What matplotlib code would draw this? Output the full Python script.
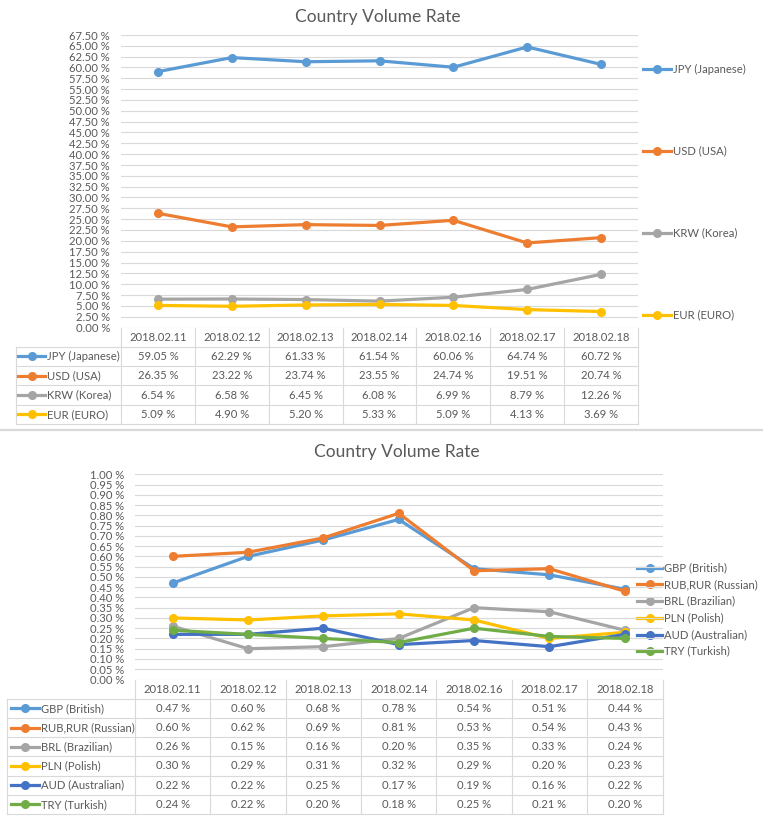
import numpy as np
import matplotlib.pyplot as plt
from matplotlib.lines import Line2D

plt.rcParams['font.family'] = ['Lato', 'DejaVu Sans']

dates = ["2018.02.11", "2018.02.12", "2018.02.13", "2018.02.14",
         "2018.02.16", "2018.02.17", "2018.02.18"]

# top chart (percent)
top_names = ["JPY (Japanese)", "USD (USA)", "KRW (Korea)", "EUR (EURO)"]
jpy = [59.05, 62.29, 61.33, 61.54, 60.06, 64.74, 60.72]
usd = [26.35, 23.22, 23.74, 23.55, 24.74, 19.51, 20.74]
krw = [6.54, 6.58, 6.45, 6.08, 6.99, 8.79, 12.26]
eur = [5.09, 4.90, 5.20, 5.33, 5.09, 4.13, 3.69]
top_series = [jpy, usd, krw, eur]
top_colors = ["#5B9BD5", "#ED7D31", "#A5A5A5", "#FFC000"]

# bottom chart (percent)
bot_names = ["GBP (British)", "RUB,RUR (Russian)", "BRL (Brazilian)",
             "PLN (Polish)", "AUD (Australian)", "TRY (Turkish)"]
gbp = [0.47, 0.60, 0.68, 0.78, 0.54, 0.51, 0.44]
rub = [0.60, 0.62, 0.69, 0.81, 0.53, 0.54, 0.43]
brl = [0.26, 0.15, 0.16, 0.20, 0.35, 0.33, 0.24]
pln = [0.30, 0.29, 0.31, 0.32, 0.29, 0.20, 0.23]
aud = [0.22, 0.22, 0.25, 0.17, 0.19, 0.16, 0.22]
tryk = [0.24, 0.22, 0.20, 0.18, 0.25, 0.21, 0.20]
bot_series = [gbp, rub, brl, pln, aud, tryk]
bot_colors = ["#5B9BD5", "#ED7D31", "#A5A5A5", "#FFC000", "#4472C4", "#70AD47"]

W, H = 763, 825
TXT = "#595959"
GRID = "#D9D9D9"
FS = 8.1

fig = plt.figure(figsize=(W / 100, H / 100), dpi=100)
ov = fig.add_axes([0, 0, 1, 1], zorder=0)
ov.set_xlim(0, W)
ov.set_ylim(H, 0)
ov.axis("off")


def px_axes(x0, y0, x1, y1):
    return fig.add_axes([x0 / W, 1 - y1 / H, (x1 - x0) / W, (y1 - y0) / H], zorder=2)


def draw_chart(x0, x1, ytop, ybot, ymax, ystep, series, names, colors,
               title_y, leg_left, key_x, leg_x, leg_y0, leg_dy, row_h):
    ax = px_axes(x0, ytop, x1, ybot)
    ax.set_facecolor("none")
    xs = np.arange(len(dates))
    for vals, col in zip(series, colors):
        ax.plot(xs, vals, color=col, lw=2.3, marker="o", ms=5.5, solid_capstyle="round")
    ax.set_xlim(-0.5, len(dates) - 0.5)
    ax.set_ylim(0, ymax)
    ticks = np.arange(0, ymax + ystep / 2, ystep)
    ax.set_yticks(ticks)
    ax.set_yticklabels([f"{t:.2f} %" for t in ticks], fontsize=FS, color=TXT)
    ax.set_xticks([])
    ax.tick_params(axis="y", length=0, pad=8)
    for t in ticks:
        ax.axhline(t, color=GRID, lw=0.8, zorder=0)
    for s in ax.spines.values():
        s.set_visible(False)

    ov.text((x0 + x1) / 2 - 2, title_y, "Country Volume Rate", ha="center", va="center",
            fontsize=12.5, color=TXT)

    # data table
    n = len(dates)
    cw = (x1 - x0) / n
    y_head = ybot
    y_rows = ybot + row_h
    y_end = y_rows + row_h * len(series)
    lk = dict(color=GRID, lw=0.8)
    for i in range(n + 1):
        ov.plot([x0 + i * cw] * 2, [y_head, y_end], **lk)
    ov.plot([leg_left] * 2, [y_rows, y_end], **lk)
    for j in range(len(series) + 1):
        ov.plot([leg_left, x1], [y_rows + j * row_h] * 2, **lk)
    for i, d in enumerate(dates):
        ov.text(x0 + (i + 0.5) * cw, y_head + row_h / 2, d, ha="center", va="center",
                fontsize=FS, color=TXT)
    for j, (vals, name, col) in enumerate(zip(series, names, colors)):
        yc = y_rows + (j + 0.5) * row_h
        ov.plot([key_x[0], key_x[1]], [yc, yc], color=col, lw=2.3)
        ov.plot([(key_x[0] + key_x[1]) / 2], [yc], color=col, marker="o", ms=5.5)
        ov.text(key_x[1] + 2, yc, name, ha="left", va="center", fontsize=FS, color=TXT)
        for i, v in enumerate(vals):
            ov.text(x0 + (i + 0.5) * cw, yc, f"{v:.2f} %", ha="center", va="center",
                    fontsize=FS, color=TXT)

    # right legend
    for j, (name, col) in enumerate(zip(names, colors)):
        yc = leg_y0 + j * leg_dy
        ov.plot([leg_x[0], leg_x[1]], [yc, yc], color=col, lw=2.3)
        ov.plot([(leg_x[0] + leg_x[1]) / 2], [yc], color=col, marker="o", ms=5.5)
        ov.text(leg_x[1] + 2, yc, name, ha="left", va="center", fontsize=FS, color=TXT)


draw_chart(121, 638, 35, 327.5, 67.5, 2.5, top_series, top_names, top_colors,
           title_y=17, leg_left=16, key_x=(18, 45), leg_x=(643, 671),
           leg_y0=69, leg_dy=82, row_h=19.3)

draw_chart(135, 662.5, 474.3, 679.5, 1.0, 0.05, bot_series, bot_names, bot_colors,
           title_y=452.5, leg_left=7, key_x=(11, 39), leg_x=(637, 662),
           leg_y0=567.7, leg_dy=16.7, row_h=19.2)

# separator between the two charts
ov.add_line(Line2D([0, W], [430, 430], color=GRID, lw=1.6))

fig.savefig("out.png", dpi=100, facecolor="white")
